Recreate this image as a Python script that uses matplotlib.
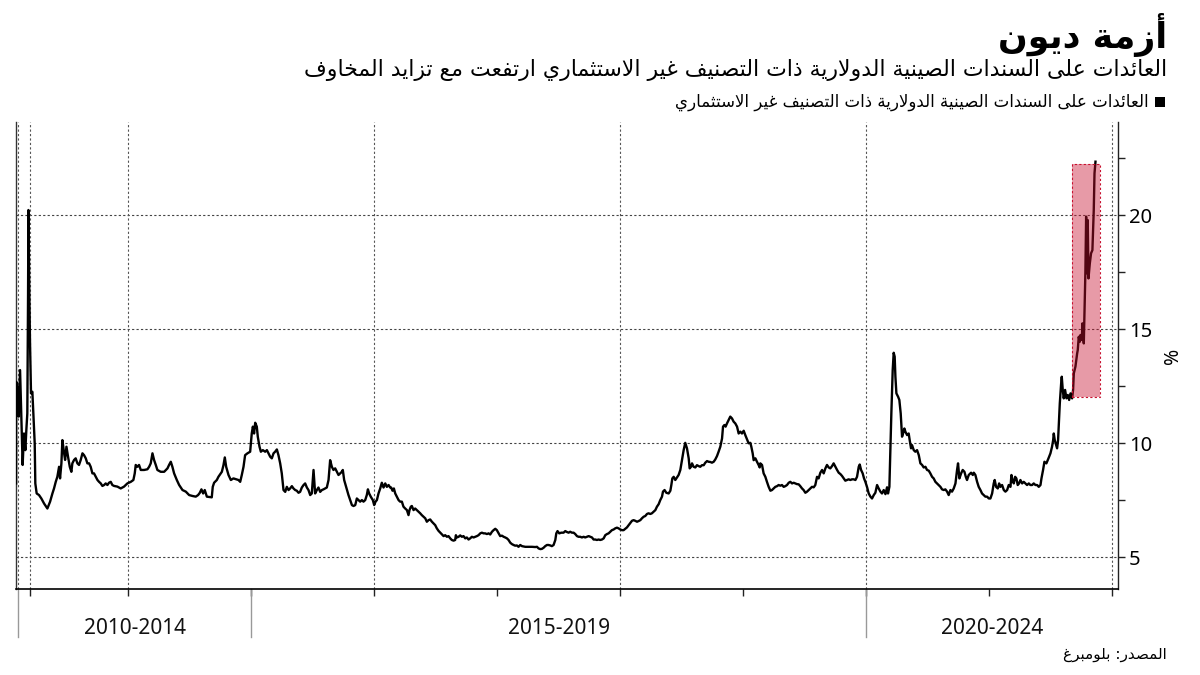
import matplotlib.pyplot as plt
from matplotlib.patches import Rectangle
from matplotlib.transforms import blended_transform_factory

TITLE = "أزمة ديون"
SUBTITLE = "العائدات على السندات الصينية الدولارية ذات التصنيف غير الاستثماري ارتفعت مع تزايد المخاوف"
SERIES_NAME = "العائدات على السندات الصينية الدولارية ذات التصنيف غير الاستثماري"
SOURCE = "المصدر: بلومبرغ"

# Chinese high-yield dollar bond yield, % (decimal year, value)
hy_yield = [
    (2013.090, 8.23), (2013.091, 12.69), (2013.100, 12.47), (2013.111, 11.16), (2013.122, 13.20),
    (2013.133, 11.01), (2013.143, 9.04), (2013.154, 10.42), (2013.165, 9.69), (2013.173, 10.57),
    (2013.181, 11.30), (2013.187, 16.56), (2013.190, 20.22), (2013.198, 16.27), (2013.203, 14.37),
    (2013.211, 12.18), (2013.222, 12.25), (2013.230, 11.30), (2013.241, 9.99), (2013.246, 8.23),
    (2013.257, 7.79), (2013.276, 7.72), (2013.295, 7.57), (2013.317, 7.35), (2013.344, 7.13),
    (2013.366, 7.43), (2013.385, 7.79), (2013.398, 8.01), (2013.412, 8.30), (2013.425, 8.52),
    (2013.439, 8.96), (2013.447, 8.45), (2013.458, 9.11), (2013.466, 10.13), (2013.480, 9.55),
    (2013.488, 9.26), (2013.499, 9.84), (2013.512, 9.40), (2013.526, 8.96), (2013.539, 8.74),
    (2013.547, 9.11), (2013.561, 9.26), (2013.574, 9.33), (2013.588, 9.11), (2013.601, 9.04),
    (2013.615, 9.26), (2013.629, 9.55), (2013.642, 9.47), (2013.656, 9.33), (2013.669, 9.11),
    (2013.683, 9.11), (2013.696, 8.96), (2013.710, 8.67), (2013.723, 8.67), (2013.737, 8.52),
    (2013.751, 8.38), (2013.764, 8.30), (2013.778, 8.23), (2013.791, 8.12), (2013.805, 8.16),
    (2013.818, 8.23), (2013.832, 8.16), (2013.845, 8.26), (2013.859, 8.30), (2013.872, 8.16),
    (2013.886, 8.12), (2013.913, 8.09), (2013.940, 8.01), (2013.967, 8.09), (2013.994, 8.23),
    (2014.022, 8.30), (2014.043, 8.38), (2014.054, 8.67), (2014.062, 9.04), (2014.076, 8.96),
    (2014.089, 9.04), (2014.103, 8.82), (2014.130, 8.82), (2014.157, 8.85), (2014.171, 8.96),
    (2014.184, 9.11), (2014.198, 9.55), (2014.211, 9.26), (2014.225, 9.04), (2014.238, 8.82),
    (2014.265, 8.74), (2014.293, 8.74), (2014.320, 8.89), (2014.333, 9.04), (2014.347, 9.18),
    (2014.360, 8.96), (2014.374, 8.67), (2014.396, 8.38), (2014.415, 8.16), (2014.442, 7.94),
    (2014.469, 7.87), (2014.496, 7.72), (2014.523, 7.68), (2014.550, 7.65), (2014.569, 7.72),
    (2014.583, 7.82), (2014.596, 7.97), (2014.610, 7.79), (2014.623, 7.94),
    (2014.640, 7.65), (2014.680, 7.62), (2014.688, 8.08), (2014.699, 8.26), (2014.721, 8.38),
    (2014.734, 8.52), (2014.762, 8.74), (2014.775, 9.03), (2014.786, 9.37), (2014.797, 8.96),
    (2014.816, 8.60), (2014.835, 8.38), (2014.856, 8.45), (2014.878, 8.41), (2014.897, 8.38),
    (2014.911, 8.30), (2014.924, 8.60), (2014.938, 8.96), (2014.951, 9.47), (2014.970, 9.55),
    (2014.992, 9.62), (2015.005, 10.42), (2015.014, 10.72), (2015.024, 10.42), (2015.033, 10.89),
    (2015.046, 10.72), (2015.054, 10.28), (2015.068, 9.84), (2015.079, 9.62), (2015.095, 9.69),
    (2015.114, 9.62), (2015.128, 9.69), (2015.141, 9.55), (2015.155, 9.40), (2015.168, 9.33),
    (2015.182, 9.55), (2015.195, 9.62), (2015.209, 9.72), (2015.222, 9.47), (2015.236, 9.11),
    (2015.249, 8.67), (2015.263, 7.94), (2015.277, 7.86), (2015.290, 8.08), (2015.304, 7.94),
    (2015.317, 8.01), (2015.331, 8.11), (2015.344, 8.01), (2015.358, 7.94), (2015.371, 7.91),
    (2015.385, 7.82), (2015.398, 7.86), (2015.412, 8.05), (2015.426, 8.16), (2015.439, 8.23),
    (2015.453, 8.05), (2015.466, 7.94), (2015.480, 7.72), (2015.493, 7.79), (2015.507, 8.82),
    (2015.520, 7.79), (2015.534, 7.94), (2015.547, 8.05), (2015.561, 7.86), (2015.575, 7.94),
    (2015.588, 7.97), (2015.602, 8.01), (2015.615, 8.05), (2015.629, 8.38), (2015.642, 9.25),
    (2015.656, 8.96), (2015.669, 8.82), (2015.683, 8.89), (2015.697, 8.74), (2015.710, 8.60),
    (2015.724, 8.67), (2015.737, 8.74), (2015.745, 8.82), (2015.756, 8.38), (2015.772, 8.08),
    (2015.791, 7.72), (2015.805, 7.50), (2015.819, 7.28), (2015.832, 7.24), (2015.846, 7.28),
    (2015.859, 7.57), (2015.873, 7.50), (2015.886, 7.43), (2015.900, 7.50), (2015.913, 7.43),
    (2015.927, 7.50), (2015.940, 7.72), (2015.949, 7.97), (2015.959, 7.79), (2015.973, 7.64),
    (2015.989, 7.50), (2016.000, 7.28), (2016.011, 7.43), (2016.022, 7.50), (2016.035, 7.79),
    (2016.049, 8.01), (2016.062, 8.26), (2016.076, 8.05), (2016.090, 8.23), (2016.103, 8.08),
    (2016.117, 8.16), (2016.130, 8.05),
    (2016.138, 8.05), (2016.149, 7.91), (2016.160, 8.01), (2016.171, 7.79), (2016.184, 7.65),
    (2016.198, 7.50), (2016.211, 7.43), (2016.225, 7.43), (2016.238, 7.21), (2016.252, 7.13),
    (2016.266, 7.06), (2016.279, 6.84), (2016.287, 7.06), (2016.298, 7.21), (2016.306, 7.24),
    (2016.320, 7.06), (2016.333, 7.13), (2016.347, 7.06), (2016.360, 6.99), (2016.374, 6.92),
    (2016.387, 6.84), (2016.401, 6.77), (2016.415, 6.70), (2016.428, 6.55), (2016.442, 6.62),
    (2016.455, 6.65), (2016.469, 6.55), (2016.482, 6.48), (2016.496, 6.40), (2016.509, 6.26),
    (2016.523, 6.15), (2016.537, 6.07), (2016.550, 5.99), (2016.564, 5.92), (2016.577, 5.96),
    (2016.591, 5.89), (2016.604, 5.92), (2016.618, 5.82), (2016.631, 5.75), (2016.645, 5.72),
    (2016.658, 5.75), (2016.664, 5.96), (2016.672, 5.86), (2016.686, 5.89), (2016.699, 5.95),
    (2016.713, 5.89), (2016.726, 5.92), (2016.740, 5.82), (2016.753, 5.86), (2016.767, 5.77),
    (2016.780, 5.82), (2016.794, 5.89), (2016.808, 5.86), (2016.821, 5.89), (2016.835, 5.92),
    (2016.848, 5.96), (2016.862, 6.04), (2016.875, 6.07), (2016.889, 6.04), (2016.902, 6.04),
    (2016.916, 6.01), (2016.930, 6.04), (2016.943, 5.99), (2016.957, 6.11), (2016.970, 6.18),
    (2016.984, 6.24), (2016.997, 6.18), (2017.011, 6.04), (2017.024, 5.92), (2017.038, 5.94),
    (2017.052, 5.89), (2017.065, 5.86), (2017.079, 5.82), (2017.092, 5.75), (2017.106, 5.63),
    (2017.119, 5.57), (2017.133, 5.53), (2017.146, 5.50), (2017.160, 5.51), (2017.173, 5.45),
    (2017.187, 5.53), (2017.201, 5.48), (2017.228, 5.45), (2017.255, 5.45), (2017.282, 5.45),
    (2017.309, 5.44), (2017.323, 5.45), (2017.336, 5.38), (2017.350, 5.35), (2017.363, 5.36),
    (2017.377, 5.41), (2017.390, 5.48), (2017.404, 5.53), (2017.417, 5.53), (2017.431, 5.51),
    (2017.444, 5.48), (2017.458, 5.53), (2017.472, 5.75), (2017.480, 6.04), (2017.490, 6.14),
    (2017.504, 6.04), (2017.520, 6.07), (2017.539, 6.07), (2017.553, 6.14), (2017.566, 6.10),
    (2017.580, 6.07), (2017.593, 6.11), (2017.607, 6.07), (2017.621, 6.07), (2017.634, 6.01),
    (2017.648, 5.92), (2017.661, 5.89), (2017.675, 5.89), (2017.688, 5.86), (2017.702, 5.89),
    (2017.715, 5.86), (2017.729, 5.89), (2017.743, 5.92), (2017.756, 5.89), (2017.770, 5.86),
    (2017.783, 5.77), (2017.797, 5.77), (2017.810, 5.75), (2017.824, 5.77), (2017.837, 5.75),
    (2017.851, 5.77), (2017.865, 5.82), (2017.878, 5.96), (2017.892, 6.01), (2017.905, 6.04),
    (2017.919, 6.11), (2017.932, 6.18), (2017.946, 6.21), (2017.959, 6.26), (2017.973, 6.29),
    (2017.986, 6.26), (2018.000, 6.21), (2018.014, 6.18), (2018.027, 6.18), (2018.041, 6.24),
    (2018.054, 6.30), (2018.068, 6.40), (2018.081, 6.50), (2018.095, 6.59), (2018.108, 6.62),
    (2018.122, 6.59), (2018.136, 6.55), (2018.149, 6.58), (2018.163, 6.62), (2018.176, 6.70),
    (2018.190, 6.77), (2018.203, 6.80), (2018.217, 6.89), (2018.230, 6.92), (2018.244, 6.89),
    (2018.257, 6.92), (2018.271, 6.99), (2018.285, 7.06), (2018.298, 7.21), (2018.312, 7.32),
    (2018.325, 7.50), (2018.339, 7.65), (2018.347, 7.87), (2018.360, 7.94), (2018.374, 7.82),
    (2018.393, 7.79), (2018.407, 7.91), (2018.415, 8.16), (2018.423, 8.45), (2018.434, 8.52),
    (2018.447, 8.38), (2018.461, 8.49), (2018.474, 8.60), (2018.488, 8.82), (2018.501, 9.25),
    (2018.515, 9.69), (2018.528, 10.01), (2018.542, 9.77), (2018.556, 9.33), (2018.564, 8.89),
    (2018.575, 8.96), (2018.583, 9.11), (2018.596, 8.96), (2018.610, 8.93), (2018.623, 9.03),
    (2018.637, 8.99), (2018.650, 8.96), (2018.664, 9.03), (2018.678, 9.03), (2018.691, 9.14),
    (2018.705, 9.21), (2018.718, 9.18), (2018.732, 9.17), (2018.745, 9.14), (2018.759, 9.18),
    (2018.772, 9.28), (2018.786, 9.43), (2018.799, 9.62), (2018.813, 9.84), (2018.827, 10.20),
    (2018.835, 10.72), (2018.846, 10.79), (2018.856, 10.72), (2018.867, 10.86), (2018.881, 11.01),
    (2018.894, 11.16), (2018.908, 11.08), (2018.921, 10.94), (2018.935, 10.86), (2018.949, 10.72),
    (2018.962, 10.42), (2018.976, 10.50), (2018.989, 10.42), (2019.003, 10.54), (2019.016, 10.35),
    (2019.030, 10.16), (2019.043, 9.99), (2019.057, 10.01), (2019.065, 9.84), (2019.076, 9.55),
    (2019.084, 9.25), (2019.098, 9.33), (2019.111, 9.18), (2019.125, 9.03), (2019.133, 8.93),
    (2019.138, 9.11), (2019.152, 9.04), (2019.165, 8.67), (2019.179, 8.52), (2019.192, 8.30),
    (2019.206, 8.08), (2019.220, 7.91), (2019.233, 7.94), (2019.247, 8.01), (2019.260, 8.08),
    (2019.274, 8.11), (2019.287, 8.16), (2019.301, 8.13), (2019.314, 8.16), (2019.328, 8.08),
    (2019.341, 8.11), (2019.355, 8.16), (2019.369, 8.26), (2019.382, 8.30), (2019.396, 8.23),
    (2019.409, 8.26), (2019.423, 8.23), (2019.436, 8.20), (2019.450, 8.19), (2019.463, 8.11),
    (2019.477, 8.01), (2019.490, 7.94), (2019.504, 7.82), (2019.518, 7.87), (2019.531, 7.94),
    (2019.545, 8.01), (2019.558, 8.08), (2019.572, 8.06), (2019.585, 8.16), (2019.599, 8.52),
    (2019.612, 8.45), (2019.626, 8.70), (2019.640, 8.82), (2019.653, 8.67), (2019.667, 8.89),
    (2019.680, 9.04), (2019.694, 8.93), (2019.707, 8.89), (2019.721, 8.99), (2019.734, 9.11),
    (2019.748, 8.96), (2019.762, 8.82), (2019.775, 8.70), (2019.789, 8.64), (2019.802, 8.56),
    (2019.816, 8.45), (2019.829, 8.35), (2019.843, 8.38), (2019.856, 8.41), (2019.870, 8.38),
    (2019.883, 8.41), (2019.897, 8.41), (2019.911, 8.38), (2019.924, 8.52), (2019.938, 8.96),
    (2019.946, 9.06), (2019.957, 8.82), (2019.970, 8.67), (2019.981, 8.45), (2019.992, 8.30),
    (2020.005, 8.08), (2020.019, 7.79), (2020.033, 7.65), (2020.046, 7.57), (2020.060, 7.72),
    (2020.073, 7.82), (2020.087, 8.16), (2020.100, 8.01), (2020.114, 7.87), (2020.127, 7.79),
    (2020.141, 7.94), (2020.155, 7.76), (2020.168, 8.06), (2020.176, 7.79), (2020.187, 8.08),
    (2020.195, 9.69), (2020.203, 11.30), (2020.214, 13.20), (2020.222, 13.96), (2020.230, 13.79),
    (2020.236, 12.91), (2020.244, 12.18), (2020.258, 12.03), (2020.268, 11.89), (2020.279, 11.30),
    (2020.290, 10.28), (2020.298, 10.42), (2020.309, 10.64), (2020.317, 10.50), (2020.331, 10.35),
    (2020.344, 10.42), (2020.352, 10.13), (2020.363, 9.77), (2020.371, 9.91), (2020.385, 9.69),
    (2020.398, 9.62), (2020.412, 9.69), (2020.426, 9.47), (2020.439, 9.11), (2020.453, 9.04),
    (2020.466, 8.93), (2020.480, 8.96), (2020.493, 8.82), (2020.507, 8.79), (2020.520, 8.67),
    (2020.534, 8.52), (2020.547, 8.45), (2020.561, 8.30), (2020.574, 8.23), (2020.588, 8.16),
    (2020.602, 8.08), (2020.615, 7.97), (2020.629, 7.94), (2020.642, 7.97),
    (2020.656, 7.87), (2020.669, 7.72), (2020.683, 7.94), (2020.696, 7.87), (2020.710, 8.01),
    (2020.724, 8.23), (2020.737, 8.82), (2020.745, 9.11), (2020.756, 8.45), (2020.770, 8.67),
    (2020.783, 8.82), (2020.797, 8.74), (2020.808, 8.52), (2020.818, 8.38), (2020.832, 8.60),
    (2020.851, 8.70), (2020.865, 8.60), (2020.873, 8.70), (2020.886, 8.60), (2020.900, 8.30),
    (2020.913, 8.08), (2020.927, 7.94), (2020.940, 7.79), (2020.954, 7.72), (2020.967, 7.65),
    (2020.981, 7.65), (2020.995, 7.57), (2021.008, 7.57), (2021.022, 7.79), (2021.035, 8.23),
    (2021.043, 8.38), (2021.054, 8.08), (2021.068, 8.01), (2021.079, 8.23), (2021.089, 8.08),
    (2021.103, 8.16), (2021.117, 7.94), (2021.130, 7.87), (2021.144, 7.94), (2021.157, 8.16),
    (2021.171, 8.08), (2021.179, 8.60), (2021.187, 8.38), (2021.198, 8.23), (2021.209, 8.52),
    (2021.219, 8.45), (2021.230, 8.16), (2021.241, 8.23), (2021.252, 8.38), (2021.266, 8.23),
    (2021.279, 8.30), (2021.293, 8.23), (2021.306, 8.16), (2021.320, 8.23), (2021.333, 8.16),
    (2021.347, 8.16), (2021.360, 8.23), (2021.374, 8.16), (2021.388, 8.16), (2021.401, 8.08),
    (2021.415, 8.16), (2021.423, 8.45), (2021.436, 8.82), (2021.447, 9.18), (2021.463, 9.11),
    (2021.480, 9.33), (2021.496, 9.55), (2021.509, 9.84), (2021.518, 10.13), (2021.523, 10.42),
    (2021.531, 10.13), (2021.539, 9.98), (2021.550, 9.77), (2021.558, 10.13), (2021.564, 10.86),
    (2021.572, 11.74), (2021.583, 12.62), (2021.588, 12.91), (2021.596, 12.33), (2021.604, 11.96),
    (2021.615, 12.33), (2021.626, 11.96), (2021.637, 12.11), (2021.648, 11.89), (2021.659, 12.18),
    (2021.672, 11.96), (2021.680, 12.33), (2021.686, 13.06), (2021.699, 13.35), (2021.713, 13.93),
    (2021.718, 14.08), (2021.726, 14.66), (2021.734, 14.44), (2021.740, 14.74), (2021.751, 14.52),
    (2021.756, 15.25), (2021.767, 14.37), (2021.772, 15.54), (2021.780, 17.51), (2021.786, 19.93),
    (2021.794, 17.44), (2021.799, 19.78), (2021.805, 17.22), (2021.816, 17.88), (2021.826, 18.32),
    (2021.837, 18.46), (2021.848, 20.22), (2021.854, 21.83), (2021.862, 22.34),
]

period_labels = ["2010-2014", "2015-2019", "2020-2024"]
period_bounds = [2013.106, 2015.0, 2020.0, 2022.045]
grid_years = [2013.106, 2013.2, 2014, 2016, 2018, 2020, 2022]
tick_years = [2013.2, 2014, 2015, 2016, 2017, 2018, 2019, 2020, 2021, 2022]
y_major = [5, 10, 15, 20]
y_minor = [7.5, 12.5, 17.5, 22.5]
highlight_x = (2021.672, 2021.902)
highlight_y = (12.03, 22.24)

# matplotlib has no Arabic shaping: map letters to presentation forms and reverse
AR_FORMS = {
    'ء': (0xFE80, 1), 'آ': (0xFE81, 2), 'أ': (0xFE83, 2), 'ؤ': (0xFE85, 2), 'إ': (0xFE87, 2),
    'ئ': (0xFE89, 4), 'ا': (0xFE8D, 2), 'ب': (0xFE8F, 4), 'ة': (0xFE93, 2), 'ت': (0xFE95, 4),
    'ث': (0xFE99, 4), 'ج': (0xFE9D, 4), 'ح': (0xFEA1, 4), 'خ': (0xFEA5, 4), 'د': (0xFEA9, 2),
    'ذ': (0xFEAB, 2), 'ر': (0xFEAD, 2), 'ز': (0xFEAF, 2), 'س': (0xFEB1, 4), 'ش': (0xFEB5, 4),
    'ص': (0xFEB9, 4), 'ض': (0xFEBD, 4), 'ط': (0xFEC1, 4), 'ظ': (0xFEC5, 4), 'ع': (0xFEC9, 4),
    'غ': (0xFECD, 4), 'ف': (0xFED1, 4), 'ق': (0xFED5, 4), 'ك': (0xFED9, 4), 'ل': (0xFEDD, 4),
    'م': (0xFEE1, 4), 'ن': (0xFEE5, 4), 'ه': (0xFEE9, 4), 'و': (0xFEED, 2), 'ى': (0xFEEF, 2),
    'ي': (0xFEF1, 4),
}
LAM_ALEF = {'آ': 0xFEF5, 'أ': 0xFEF7, 'إ': 0xFEF9, 'ا': 0xFEFB}


def shape_ar(text):
    tokens = []
    i = 0
    while i < len(text):
        c = text[i]
        if c == 'ل' and i + 1 < len(text) and text[i + 1] in LAM_ALEF:
            tokens.append((LAM_ALEF[text[i + 1]], 2))
            i += 2
            continue
        tokens.append(AR_FORMS.get(c, c))
        i += 1
    out = []
    for k, t in enumerate(tokens):
        if isinstance(t, str):
            out.append(t)
            continue
        base, n = t
        prev = tokens[k - 1] if k > 0 else None
        nxt = tokens[k + 1] if k + 1 < len(tokens) else None
        join_prev = n > 1 and isinstance(prev, tuple) and prev[1] == 4
        join_next = n == 4 and isinstance(nxt, tuple)
        if join_prev and join_next:
            out.append(chr(base + 3))
        elif join_prev:
            out.append(chr(base + 1))
        elif join_next:
            out.append(chr(base + 2))
        else:
            out.append(chr(base))
    return ''.join(reversed(out))


AR_FONT = 'DejaVu Sans'
NUM_FONT = 'Noto Sans'

xs = [p[0] for p in hy_yield]
ys = [p[1] for p in hy_yield]

fig = plt.figure(figsize=(12, 6.75), dpi=100)
ax = fig.add_axes([16 / 1200, 1 - 589 / 675, 1102 / 1200, 467 / 675])

ax.plot(xs, ys, color='black', lw=1.7, zorder=3)
ax.add_patch(Rectangle((highlight_x[0], highlight_y[0]), highlight_x[1] - highlight_x[0],
                       highlight_y[1] - highlight_y[0], facecolor='#c8102e', alpha=0.42,
                       edgecolor='none', zorder=4))
ax.add_patch(Rectangle((highlight_x[0], highlight_y[0]), highlight_x[1] - highlight_x[0],
                       highlight_y[1] - highlight_y[0], facecolor='none', edgecolor='#c8102e',
                       lw=0.8, ls=(0, (2, 2)), zorder=5))

ax.set_xlim(2013.089, 2022.045)
ax.set_ylim(3.6, 24.08)

for yv in y_major:
    ax.axhline(yv, color='#444444', lw=0.8, ls=(0, (2, 2)), zorder=1)
for xv in grid_years:
    ax.axvline(xv, color='#555555', lw=0.8, ls=(0, (2, 2)), zorder=1)

ax.yaxis.tick_right()
ax.set_yticks(y_major)
ax.set_yticks(y_minor, minor=True)
ax.tick_params(axis='y', which='both', direction='out', length=5, width=1, color='#222222',
               labelsize=14.5, pad=3)
for lab in ax.get_yticklabels():
    lab.set_family(NUM_FONT)
ax.yaxis.set_label_position('right')
ax.set_ylabel('%', fontsize=14, family=NUM_FONT, labelpad=8)

ax.set_xticks(tick_years)
ax.set_xticklabels([])
ax.tick_params(axis='x', direction='out', length=5, width=1, color='#222222')

ax.spines['top'].set_visible(False)
ax.spines['left'].set_color('#333333')
ax.spines['left'].set_linewidth(1)
ax.spines['right'].set_color('#222222')
ax.spines['right'].set_linewidth(1)
ax.spines['bottom'].set_color('black')
ax.spines['bottom'].set_linewidth(1.2)

trans = blended_transform_factory(ax.transData, ax.transAxes)
for xb in period_bounds[:-1]:
    ax.plot([xb, xb], [0, -0.103], transform=trans, color='#999999', lw=1, clip_on=False)
for k, lab in enumerate(period_labels):
    xc = (period_bounds[k] + period_bounds[k + 1]) / 2
    ax.text(xc, -0.084, lab, transform=trans, ha='center', va='center', fontsize=15,
            family=NUM_FONT, color='#111111')

fig.text(1167 / 1200, 1 - 35 / 675, shape_ar(TITLE), ha='right', va='center', fontsize=25,
         fontweight='bold', family=AR_FONT)
fig.text(1167 / 1200, 1 - 70 / 675, shape_ar(SUBTITLE), ha='right', va='center', fontsize=15.8,
         family=AR_FONT)
fig.patches.append(Rectangle((1155 / 1200, 1 - 107 / 675), 10 / 1200, 10 / 675,
                             transform=fig.transFigure, facecolor='black', edgecolor='none'))
fig.text(1149 / 1200, 1 - 102 / 675, shape_ar(SERIES_NAME), ha='right', va='center',
         fontsize=12, family=AR_FONT)
fig.text(1167 / 1200, 1 - 655 / 675, shape_ar(SOURCE), ha='right', va='center', fontsize=11,
         family=AR_FONT)

fig.savefig('out.png', dpi=100)
